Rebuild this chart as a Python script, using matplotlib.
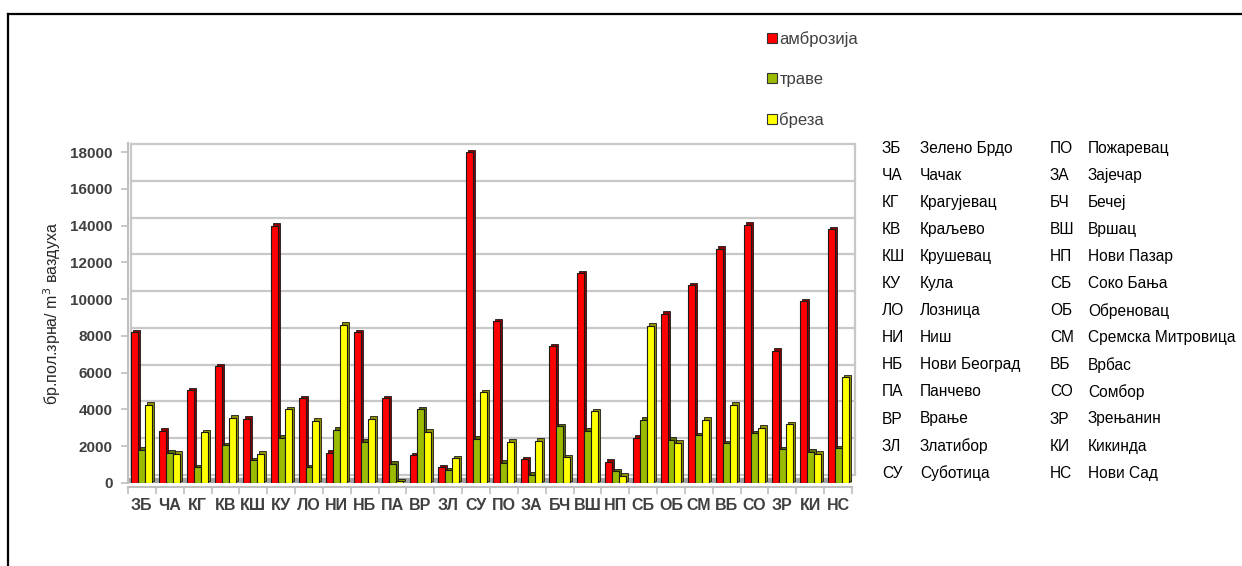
import numpy as np
import matplotlib
matplotlib.use("Agg")
import matplotlib.pyplot as plt
import matplotlib.transforms as mtransforms
from matplotlib.patches import Patch
from matplotlib.lines import Line2D

# data
codes = ["ЗБ", "ЧА", "КГ", "КВ", "КШ", "КУ", "ЛО", "НИ", "НБ", "ПА", "ВР", "ЗЛ", "СУ",
         "ПО", "ЗА", "БЧ", "ВШ", "НП", "СБ", "ОБ", "СМ", "ВБ", "СО", "ЗР", "КИ", "НС"]
names = ["Зелено Брдо", "Чачак", "Крагујевац", "Краљево", "Крушевац", "Кула", "Лозница",
         "Ниш", "Нови Београд", "Панчево", "Врање", "Златибор", "Суботица",
         "Пожаревац", "Зајечар", "Бечеј", "Вршац", "Нови Пазар", "Соко Бања", "Обреновац",
         "Сремска Митровица", "Врбас", "Сомбор", "Зрењанин", "Кикинда", "Нови Сад"]
ambrozija = [8200, 2850, 5050, 6350, 3500, 14000, 4600, 1650, 8200, 4600, 1500, 850, 18000,
             8800, 1300, 7450, 11400, 1150, 2450, 9200, 10750, 12750, 14050, 7200, 9900, 13800]
trave = [1800, 1650, 850, 2050, 1250, 2450, 850, 2900, 2250, 1050, 4000, 700, 2400,
         1100, 450, 3100, 2850, 650, 3450, 2350, 2600, 2150, 2700, 1850, 1700, 1900]
breza = [4250, 1600, 2750, 3550, 1600, 4000, 3400, 8600, 3500, 100, 2800, 1350, 4950,
         2250, 2300, 1400, 3900, 400, 8550, 2200, 3450, 4250, 3000, 3200, 1600, 5750]
series = ["амброзија", "траве", "бреза"]

colors = ["#ff0000", "#9bbb00", "#ffff00"]
dark = ["#8c0000", "#5a6d00", "#8f8f00"]
txt = "#404040"

plt.rcParams["font.family"] = ["Liberation Sans", "DejaVu Sans"]

fig = plt.figure(figsize=(12.42, 5.66), dpi=100)
W, H = 1242, 566
ax = fig.add_axes([128 / W, (H - 483) / H, 724 / W, 340 / H])

x = np.arange(len(codes))
w = 0.25
back = mtransforms.offset_copy(ax.transData, fig=fig, x=3, y=8, units="dots")
shade = mtransforms.offset_copy(ax.transData, fig=fig, x=2, y=2.5, units="dots")

# back wall grid
for v in range(0, 18001, 2000):
    ax.plot([-0.5, 25.5], [v, v], color="#c8c8c8", lw=1.6, transform=back, zorder=0,
            clip_on=False)
ax.plot([-0.5, -0.5], [0, 18000], color="#c8c8c8", lw=1.6, transform=back, zorder=0,
        clip_on=False)
ax.plot([25.5, 25.5], [0, 18000], color="#c8c8c8", lw=1.6, transform=back, zorder=0,
        clip_on=False)

# floor
ax.axhspan(0, 280, color="#a6a6a6", zorder=1)

for i, vals in enumerate([ambrozija, trave, breza]):
    pos = x + (i - 1) * w
    ax.bar(pos, vals, w, color=dark[i], edgecolor="#1a1a1a", lw=0.6, transform=shade,
           zorder=2 + i * 2)
    ax.bar(pos, vals, w, color=colors[i], edgecolor="#1a1a1a", lw=0.8, zorder=3 + i * 2)

ax.set_xlim(-0.5, 25.5)
ax.set_ylim(0, 18500)
ax.set_yticks(range(0, 18001, 2000))
ax.set_xticks(x)
ax.set_xticklabels(codes)
ax.set_xticks(np.arange(-0.5, 26, 1), minor=True)
ax.tick_params(axis="x", which="major", length=0, pad=8, labelsize=11.5, labelcolor=txt)
ax.tick_params(axis="x", which="minor", length=5, color="#bfbfbf", width=1.2)
ax.tick_params(axis="y", length=5, color="#bfbfbf", width=1.2, labelsize=11,
               labelcolor=txt, pad=6)
for s in ["top", "right"]:
    ax.spines[s].set_visible(False)
for s in ["left", "bottom"]:
    ax.spines[s].set_color("#bfbfbf")
    ax.spines[s].set_linewidth(1.5)
ax.spines["bottom"].set_position(("outward", 3))
ax.set_facecolor("none")
ax.set_ylabel("бр.пол.зрна/ m$^3$ ваздуха", fontsize=11.5, color="#262626", labelpad=5)
for lab in ax.get_xticklabels() + ax.get_yticklabels():
    lab.set_fontweight("bold")

# legend
handles = [Patch(facecolor=c, edgecolor="#333333", lw=0.8) for c in colors]
fig.legend(handles, series, loc="upper left", bbox_to_anchor=(752 / W, 1 - 16 / H),
           frameon=False, fontsize=12, handlelength=0.6, handleheight=0.6,
           handletextpad=0.15, labelspacing=1.5, labelcolor=txt)

# station list
listfont = dict(fontsize=11.2, va="center", color="#000000",
                family=["Liberation Sans", "DejaVu Sans"])
for k in range(13):
    yy = 1 - (148 + k * 27.1) / H
    for col, (cx, nx) in enumerate([(882, 920), (1050, 1088)]):
        j = k + 13 * col
        fig.text(cx / W, yy, codes[j], **listfont)
        fig.text(nx / W, yy, names[j], **listfont)

# outer frame
fig.add_artist(Line2D([8 / W, 1], [1 - 14 / H, 1 - 14 / H], color="#000000", lw=1.6))
fig.add_artist(Line2D([8 / W, 8 / W], [0, 1 - 14 / H], color="#000000", lw=1.6))

fig.savefig("out.png", dpi=100)
